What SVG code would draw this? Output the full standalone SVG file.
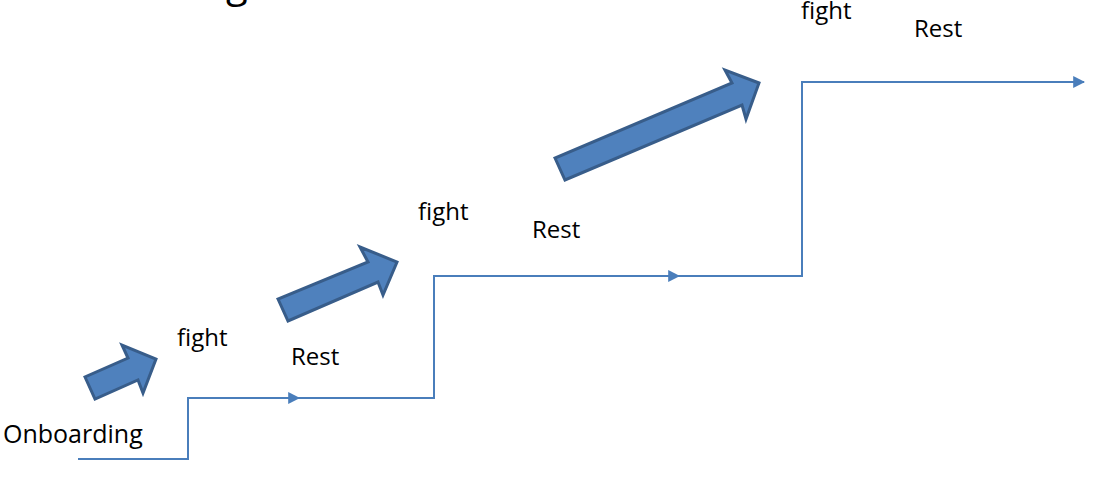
<svg xmlns="http://www.w3.org/2000/svg" width="1093" height="499" viewBox="0 0 1093 499">
<style>
.t{font-family:"Open Sans","Noto Sans","Liberation Sans",sans-serif;font-size:24px;fill:#000}
.ln{fill:none;stroke:#4a7ebb;stroke-width:2}
.blk{fill:#4f81bd;stroke:#385d8a;stroke-width:3;stroke-linejoin:miter}
</style>
<defs>
<marker id="ah" viewBox="0 0 10 10" refX="9" refY="5" markerWidth="6" markerHeight="6" markerUnits="strokeWidth" orient="auto">
<path d="M0,0 L10,5 L0,10 Z" fill="#4a7ebb"/>
</marker>
</defs>
<rect width="1093" height="499" fill="#fff"/>
<text class="t" x="226" y="-3" style="font-size:40px">g</text>
<g id="connectors">
<polyline class="ln" points="78,459 188,459 188,398 434,398 434,276 802,276 802,82 1084,82" marker-end="url(#ah)"/>
<line class="ln" x1="261" y1="398" x2="299" y2="398" marker-end="url(#ah)"/>
<line class="ln" x1="520" y1="276" x2="679" y2="276" marker-end="url(#ah)"/>
</g>
<g id="arrow1"><polygon class="blk" points="85,377 95,399 138,380 143,393 156,359 122,345 128,358"/></g>
<g id="arrow2"><polygon class="blk" points="278,299 288,321 378,282 383,295 397,262 360,247 368,262"/></g>
<g id="arrow3"><polygon class="blk" points="555,158 565,180 742,105 746,119 759,83 725,70 732,83"/></g>
<g id="onboarding"><text class="t" x="3" y="443" style="font-size:25px">Onboarding</text></g>
<g id="fight1"><text class="t" x="177" y="346">fight</text></g>
<g id="rest1"><text class="t" x="291" y="365">Rest</text></g>
<g id="fight2"><text class="t" x="418" y="220">fight</text></g>
<g id="rest2"><text class="t" x="532" y="238">Rest</text></g>
<g id="fight3"><text class="t" x="801" y="19">fight</text></g>
<g id="rest3"><text class="t" x="914" y="37">Rest</text></g>
</svg>
